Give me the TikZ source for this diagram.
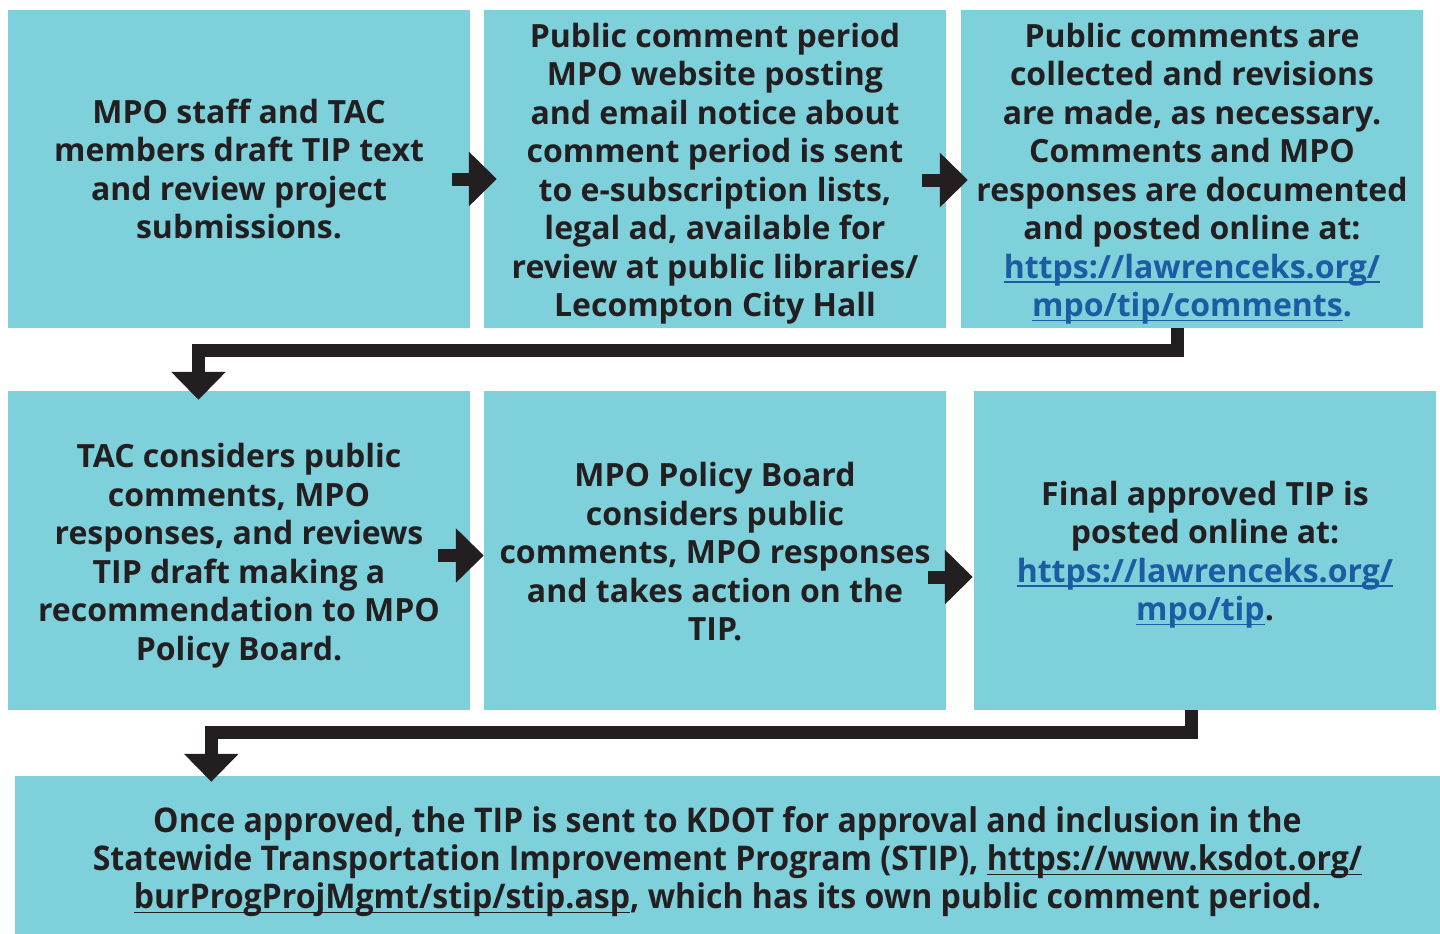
\documentclass[tikz,border=0pt]{standalone}
\usepackage{fontspec}
\setmainfont{Open Sans}
\newfontfamily\narrowfont{Open Sans}[FakeStretch=0.943]
\usepackage{xcolor}
\usetikzlibrary{calc,arrows.meta}
\definecolor{boxblue}{RGB}{126,208,219}
\definecolor{ink}{RGB}{35,31,32}
\definecolor{linkblue}{RGB}{28,92,162}
\newcommand{\uln}[1]{\leavevmode\setbox0=\hbox{#1}\rlap{\rule[-4.5pt]{\wd0}{1.8pt}}\box0}
\newcommand{\weblink}[1]{{\color{linkblue}\uln{#1}}}
\newcommand{\plainlink}[1]{\uln{#1}}
\newcommand{\lift}[1]{\rule{0pt}{#1}}

\begin{document}
\begin{tikzpicture}[x=1pt, y=-1pt,
    stepbox/.style={rectangle, fill=boxblue, text=ink, align=center, inner sep=0pt,
        font=\bfseries\fontsize{32}{38.5}\selectfont,
        minimum width=462pt, minimum height=318pt},
    flow/.style={draw=ink, line width=13pt, line join=miter,
        -{Triangle[length=28pt, width=53pt]}}]
    \useasboundingbox (0,0) rectangle (1440,934);
    % first row
    \node[stepbox] (draft) at (239,169) {MPO staff and TAC\\members draft TIP text\\and review project\\submissions.};
    \node[stepbox] (notice) at (715,169) {\lift{34pt}Public comment period\\MPO website posting\\and email notice about\\comment period is sent\\to e-subscription lists,\\legal ad, available for\\review at public libraries/\\Lecompton City Hall};
    \node[stepbox] (collect) at (1192,169) {\lift{34pt}Public comments are\\collected and revisions\\are made, as necessary.\\Comments and MPO\\responses are documented\\and posted online at:\\\weblink{https://lawrenceks.org/}\\\weblink{mpo/tip/comments}{\color{linkblue}.}};
    % second row
    \node[stepbox, minimum height=319pt] (tac) at (239,550.5) {\lift{35pt}TAC considers public\\comments, MPO\\responses, and reviews\\TIP draft making a\\recommendation to MPO\\Policy Board.};
    \node[stepbox, minimum height=319pt] (board) at (715,550.5) {\lift{27pt}MPO Policy Board\\considers public\\comments, MPO responses\\and takes action on the\\TIP.};
    \node[stepbox, minimum height=319pt] (final) at (1205,550.5) {\lift{33pt}Final approved TIP is\\posted online at:\\\weblink{https://lawrenceks.org/}\\\weblink{mpo/tip}.};
    % last step
    \node[stepbox, minimum width=1425pt, minimum height=158pt,
        font=\narrowfont\bfseries\fontsize{34}{38}\selectfont] (kdot) at (727.5,855)
        {\lift{40pt}Once approved, the TIP is sent to KDOT for approval and inclusion in the\\Statewide Transportation Improvement Program (STIP), \plainlink{https://www.ksdot.org/}\\\plainlink{burProgProjMgmt/stip/stip.asp}, which has its own public comment period.};

    % arrows between boxes
    \draw[flow] ($(draft.east)+(-18,10)$) -- ($(notice.west)+(13,10)$);
    \draw[flow] ($(notice.east)+(-24,11)$) -- ($(collect.west)+(7,11)$);
    \draw[flow] ($(tac.east)+(-32,5)$) -- ($(board.west)+(0,5)$);
    \draw[flow] ($(board.east)+(-18,26.5)$) -- ($(final.west)+(-1,26.5)$);
    % turn to the next row
    \draw[flow] ($(collect.south)+(-14.5,0)$) -- ++(0,22) -| ($(tac.north)+(-40.5,9)$);
    \draw[flow] ($(final.south)+(-13.5,0)$) -- ++(0,22.5) -| ($(kdot.north west)+(196.5,6)$);
\end{tikzpicture}
\end{document}
